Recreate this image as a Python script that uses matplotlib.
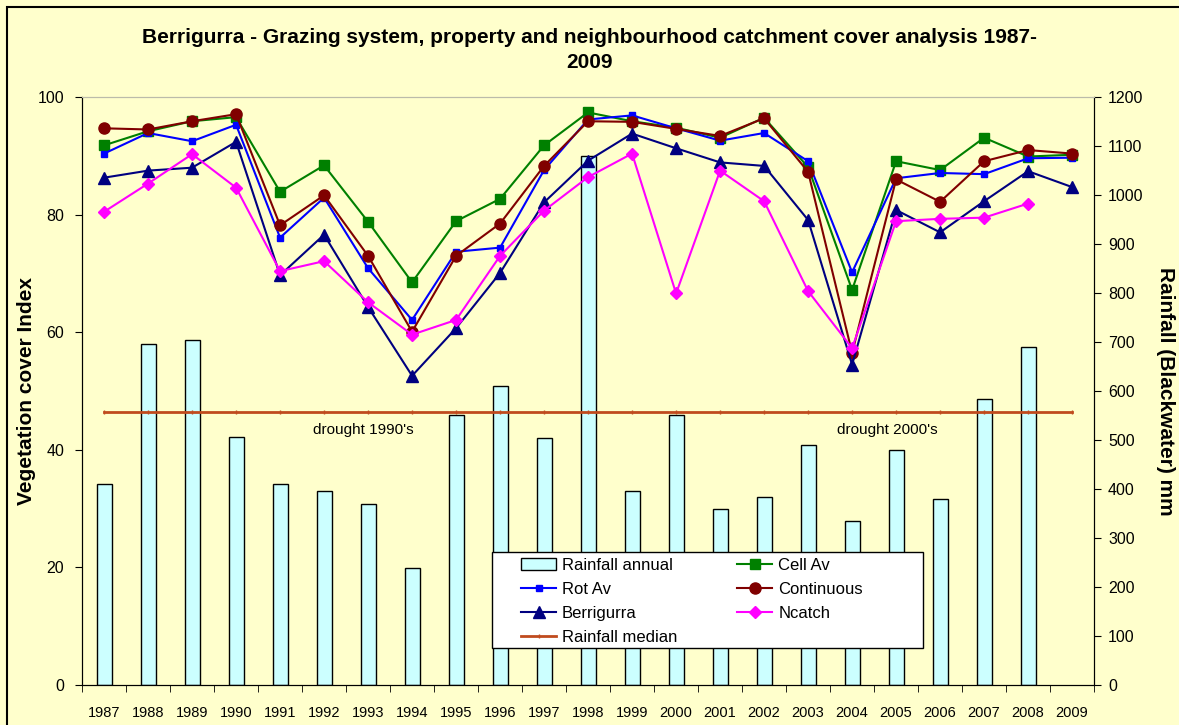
import numpy as np
import matplotlib as mat
mat.use('Agg')
import matplotlib.pyplot as plt
from matplotlib.patches import Rectangle

plt.rcParams['font.family'] = ['Liberation Sans', 'DejaVu Sans']

years = [str(y) for y in range(1987, 2010)]

# annual rainfall (mm), no bar for 2009
rainfall = [410, 696, 704, 506, 410, 396, 370, 238, 552, 610, 504, 1080,
            396, 551, 360, 384, 490, 334, 480, 380, 584, 690, np.nan]
rain_median = 558

cell_av = [91.8, 94.2, 95.9, 96.6, 83.9, 88.4, 78.8, 68.5, 78.9, 82.7, 91.8, 97.4,
           95.9, 94.8, 93.1, 96.5, 88.1, 67.2, 89.1, 87.6, 93.1, 89.9, 90.2]
rot_av = [90.4, 93.9, 92.5, 95.3, 76.1, 82.9, 70.9, 62.1, 73.7, 74.4, 87.6, 96.2,
          96.9, 94.7, 92.6, 93.9, 89.1, 70.2, 86.2, 87.1, 86.9, 89.6, 89.7]
continuous = [94.7, 94.5, 95.9, 97.1, 78.2, 83.3, 73.0, 60.1, 73.0, 78.5, 88.3, 95.9,
              95.8, 94.6, 93.4, 96.4, 87.3, 56.5, 86.0, 82.2, 89.1, 91.0, 90.4]
berrigurra = [86.3, 87.5, 88.0, 92.4, 69.7, 76.6, 64.3, 52.6, 60.7, 70.1, 82.1, 89.2,
              93.8, 91.3, 88.9, 88.3, 79.1, 54.5, 80.8, 77.0, 82.3, 87.4, 84.7]
ncatch = [80.5, 85.3, 90.3, 84.6, 70.4, 72.1, 65.1, 59.6, 62.1, 73.0, 80.7, 86.4,
          90.4, 66.6, 87.5, 82.3, 67.0, 57.3, 78.9, 79.3, 79.5, 81.9, np.nan]

x = np.arange(len(years))

fig = plt.figure(figsize=(11.79, 7.25), dpi=100, facecolor='#FFFFCC')
ax = fig.add_axes([0.0696, 0.0552, 0.8584, 0.8108])
ax2 = ax.twinx()
ax2.set_facecolor('white')
ax.set_zorder(ax2.get_zorder() + 1)
ax.patch.set_visible(False)

# rainfall bars + median on secondary axis
bars = ax2.bar(x, rainfall, width=0.34, color='#CCFFFF', edgecolor='black',
               linewidth=1.0, label='Rainfall annual')
med, = ax2.plot(x, [rain_median] * len(x), color='#C04B1E', lw=2,
                marker='|', markersize=3, label='Rainfall median')
ax2.set_ylim(0, 1200)
ax2.set_yticks(range(0, 1201, 100))
ax2.set_ylabel('Rainfall (Blackwater) mm', fontsize=15, fontweight='bold',
               rotation=270, labelpad=23)

# vegetation cover lines
l_cell, = ax.plot(x, cell_av, color='#008000', marker='s', markersize=7.5, lw=1.5, label='Cell Av')
l_rot, = ax.plot(x, rot_av, color='#0000FF', marker='s', markersize=4.5, lw=1.5, label='Rot Av')
l_cont, = ax.plot(x, continuous, color='#800000', marker='o', markersize=8, lw=1.5, label='Continuous')
l_ber, = ax.plot(x, berrigurra, color='#000080', marker='^', markersize=8, lw=1.5, label='Berrigurra')
l_nc, = ax.plot(x, ncatch, color='#FF00FF', marker='D', markersize=6, lw=1.5, label='Ncatch')

ax.set_ylim(0, 100)
ax.set_yticks(range(0, 101, 20))
ax.set_xlim(-0.5, len(x) - 0.5)
ax.set_xticks(x)
ax.set_xticklabels(years, fontsize=10.5)
ax.set_xticks(np.arange(-0.5, len(x), 1), minor=True)
ax.tick_params(axis='x', which='major', length=0, pad=15)
ax.tick_params(axis='x', which='minor', length=5, direction='out')
ax.tick_params(axis='y', labelsize=11.5, length=5, pad=8)
ax2.tick_params(axis='y', labelsize=11.5, length=5, pad=5)
ax.set_ylabel('Vegetation cover Index', fontsize=15, fontweight='bold', labelpad=1)

for a in (ax, ax2):
    a.spines['top'].set_color('#BBBBAA')
    for s in ('left', 'right', 'bottom'):
        a.spines[s].set_color('black')

ax.text(5.9, 43.4, "drought 1990's", fontsize=11, ha='center', va='center')
ax.text(17.8, 43.4, "drought 2000's", fontsize=11, ha='center', va='center')

# legend: frame drawn separately to match the wide box
ax.add_patch(Rectangle((0.405, 0.063), 0.426, 0.164, transform=ax.transAxes,
                       facecolor='white', edgecolor='black', lw=1.0, zorder=4))
handles = [bars, l_rot, l_ber, med, l_cell, l_cont, l_nc]
leg = ax.legend(handles=handles, ncol=2, loc='upper left', bbox_to_anchor=(0.4338, 0.216),
                fontsize=12, frameon=False, borderpad=0, labelspacing=0.53,
                columnspacing=3.6, handlelength=2.1, handletextpad=0.35, borderaxespad=0)
leg.set_zorder(5)

fig.text(0.5, 0.931, 'Berrigurra - Grazing system, property and neighbourhood catchment cover analysis 1987-\n2009',
         ha='center', va='center', fontsize=15, fontweight='bold', linespacing=1.45)

fig.patches.append(Rectangle((7 / 1179, -0.01), 1.02, 1 - 7 / 725 + 0.01, transform=fig.transFigure,
                             fill=False, edgecolor='black', lw=1.5))

fig.savefig('out.png', dpi=100, facecolor=fig.get_facecolor())
